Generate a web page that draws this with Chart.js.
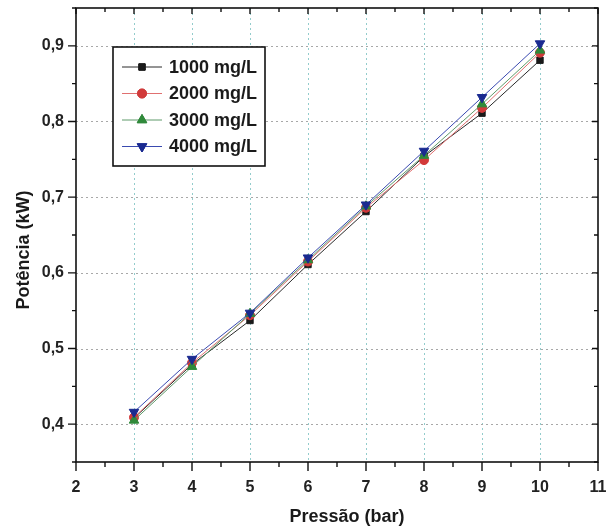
<!DOCTYPE html>
<html>
<head>
<meta charset="utf-8">
<script src="https://cdn.jsdelivr.net/npm/chart.js@4.4.1/dist/chart.umd.min.js"></script>
<style>
  body { margin: 0; background: #fff; }
  #wrap { width: 607px; height: 530px; }
</style>
</head>
<body>
<div id="wrap"><canvas id="chart"></canvas></div>
<script>
// Data
const pressure = [3, 4, 5, 6, 7, 8, 9, 10];
const p1000 = [0.408, 0.479, 0.537, 0.611, 0.681, 0.754, 0.811, 0.881];
const p2000 = [0.409, 0.481, 0.544, 0.615, 0.686, 0.749, 0.818, 0.891];
const p3000 = [0.405, 0.476, 0.546, 0.617, 0.688, 0.755, 0.823, 0.894];
const p4000 = [0.416, 0.486, 0.547, 0.620, 0.690, 0.761, 0.832, 0.903];

const xTicks = [2, 3, 4, 5, 6, 7, 8, 9, 10, 11];
const yTicks = [0.4, 0.5, 0.6, 0.7, 0.8, 0.9];
const seriesNames = ["1000 mg/L", "2000 mg/L", "3000 mg/L", "4000 mg/L"];
const xTitle = "Pressão (bar)";
const yTitle = "Potência (kW)";

const FONT = "'Liberation Sans', Arial, sans-serif";

const toPoints = arr => arr.map((v, i) => ({ x: pressure[i], y: v }));

// Grid lines (dotted) under the data
const gridPlugin = {
  id: "grid",
  beforeDatasetsDraw(chart) {
    const { ctx, chartArea: a, scales: { x, y } } = chart;
    ctx.save();
    ctx.lineWidth = 1;
    ctx.setLineDash([2, 3]);
    ctx.strokeStyle = "#93cccc";
    xTicks.slice(1, -1).forEach(v => {
      const px = Math.round(x.getPixelForValue(v)) + 0.5;
      ctx.beginPath(); ctx.moveTo(px, a.top); ctx.lineTo(px, a.bottom); ctx.stroke();
    });
    ctx.strokeStyle = "#a8a8a8";
    yTicks.forEach(v => {
      const py = Math.round(y.getPixelForValue(v)) + 0.5;
      ctx.beginPath(); ctx.moveTo(a.left, py); ctx.lineTo(a.right, py); ctx.stroke();
    });
    ctx.restore();
  }
};

// Frame, major and minor ticks, axis titles
const framePlugin = {
  id: "frame",
  afterDatasetsDraw(chart) {
    const { ctx, chartArea: a, scales: { x, y } } = chart;
    ctx.save();
    ctx.strokeStyle = "#111";
    ctx.lineWidth = 1.6;
    ctx.strokeRect(a.left, a.top, a.right - a.left, a.bottom - a.top);
    ctx.lineWidth = 1.4;
    for (let v = 2; v <= 11.001; v += 0.5) {
      const px = x.getPixelForValue(v);
      const major = Math.abs(v - Math.round(v)) < 0.01;
      ctx.beginPath();
      ctx.moveTo(px, a.bottom); ctx.lineTo(px, a.bottom + (major ? 9 : 5));
      ctx.moveTo(px, a.top); ctx.lineTo(px, a.top + (major ? 6 : 4));
      ctx.stroke();
    }
    for (let v = 0.35; v <= 0.951; v += 0.05) {
      const py = y.getPixelForValue(v);
      const major = Math.abs(v * 10 - Math.round(v * 10)) < 0.01;
      ctx.beginPath();
      ctx.moveTo(a.left, py); ctx.lineTo(a.left - (major ? 8 : 4), py);
      ctx.moveTo(a.right, py); ctx.lineTo(a.right - (major ? 6 : 4), py);
      ctx.stroke();
    }
    // axis titles
    ctx.fillStyle = "#1a1a1a";
    ctx.font = "bold 18px " + FONT;
    ctx.textAlign = "center";
    ctx.textBaseline = "middle";
    ctx.fillText(xTitle, 347, 517);
    ctx.translate(24, 250);
    ctx.rotate(-Math.PI / 2);
    ctx.fillText(yTitle, 0, 0);
    ctx.restore();
  }
};

// Boxed legend inside the plot, top-left
const legendPlugin = {
  id: "boxLegend",
  afterDraw(chart) {
    const { ctx } = chart;
    const box = { left: 113, top: 47, right: 265, bottom: 166 };
    ctx.save();
    ctx.fillStyle = "#fff";
    ctx.fillRect(box.left, box.top, box.right - box.left, box.bottom - box.top);
    ctx.strokeStyle = "#111";
    ctx.lineWidth = 1.6;
    ctx.strokeRect(box.left, box.top, box.right - box.left, box.bottom - box.top);
    chart.data.datasets.forEach((ds, i) => {
      const cy = 67 + i * 26.5;
      ctx.strokeStyle = ds.borderColor;
      ctx.lineWidth = 1;
      ctx.beginPath(); ctx.moveTo(122, cy); ctx.lineTo(162, cy); ctx.stroke();
      Chart.helpers.drawPoint(ctx, {
        pointStyle: ds.pointStyle,
        radius: ds.pointRadius,
        rotation: ds.pointRotation || 0,
        borderWidth: 1
      }, 142, cy);
      ctx.fillStyle = ds.pointBackgroundColor;
      ctx.strokeStyle = ds.pointBorderColor;
      ctx.fill(); ctx.stroke();
      ctx.fillStyle = "#1a1a1a";
      ctx.font = "bold 18px " + FONT;
      ctx.textBaseline = "middle";
      ctx.textAlign = "left";
      ctx.fillText(ds.label, 169, cy + 1);
    });
    ctx.restore();
  }
};

const styles = [
  { line: "#2a2a2a", fill: "#1a1a1a", shape: "rect", r: 4.5, rot: 0 },
  { line: "#e07070", fill: "#d23a3a", shape: "circle", r: 4.5, rot: 0 },
  { line: "#5f9a6a", fill: "#2f8a3a", shape: "triangle", r: 5.5, rot: 0 },
  { line: "#3a4ab0", fill: "#1a2a90", shape: "triangle", r: 5.5, rot: 180 }
];
const seriesData = [p1000, p2000, p3000, p4000];

new Chart(document.getElementById("chart"), {
  type: "line",
  data: {
    datasets: seriesData.map((arr, i) => ({
      label: seriesNames[i],
      data: toPoints(arr),
      borderColor: styles[i].line,
      borderWidth: 1,
      pointStyle: styles[i].shape,
      pointRadius: styles[i].r,
      pointRotation: styles[i].rot,
      pointBackgroundColor: styles[i].fill,
      pointBorderColor: styles[i].fill,
      pointBorderWidth: 1,
      tension: 0,
      order: 4 - i
    }))
  },
  options: {
    responsive: true,
    maintainAspectRatio: false,
    animation: false,
    layout: { padding: { top: 8, right: 9, left: 0, bottom: 0 } },
    plugins: { legend: { display: false }, tooltip: { enabled: false } },
    scales: {
      x: {
        type: "linear",
        min: 2,
        max: 11,
        afterBuildTicks: s => { s.ticks = xTicks.map(v => ({ value: v })); },
        afterFit: s => { s.height = 68; s.paddingLeft = 0; s.paddingRight = 0; },
        grid: { display: false, drawTicks: false, tickLength: 0 },
        border: { display: false },
        ticks: { font: { family: FONT, size: 16, weight: "bold" }, color: "#222", padding: 16, maxRotation: 0, autoSkip: false }
      },
      y: {
        min: 0.35,
        max: 0.95,
        afterBuildTicks: s => { s.ticks = yTicks.map(v => ({ value: v })); },
        afterFit: s => { s.width = 76; s.paddingTop = 0; s.paddingBottom = 0; },
        grid: { display: false, drawTicks: false, tickLength: 0 },
        border: { display: false },
        ticks: {
          font: { family: FONT, size: 16, weight: "bold" },
          color: "#222",
          padding: 12,
          callback: v => v.toFixed(1).replace(".", ",")
        }
      }
    }
  },
  plugins: [gridPlugin, framePlugin, legendPlugin]
});
</script>
</body>
</html>
